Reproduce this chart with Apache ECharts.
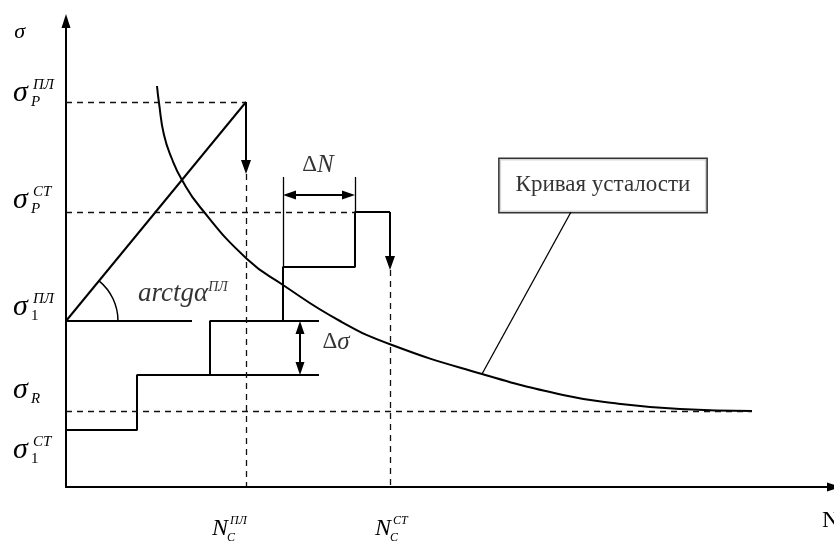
<!DOCTYPE html>
<html>
<head>
<meta charset="utf-8">
<script src="https://cdn.jsdelivr.net/npm/echarts@6/dist/echarts.min.js"></script>
<style>
html, body { margin: 0; padding: 0; background: #fff; }
#chart { width: 834px; height: 541px; }
</style>
</head>
<body>
<div id="chart"></div>
<script>
// уровни напряжений на оси σ (условные единицы)
var sigmaValues = [385, 275, 166, 76, 57];
var sigmaSub = ['P', 'P', '1', 'R', '1'];
var sigmaSup = ['ПЛ', 'СТ', 'ПЛ', '', 'СТ'];

// число циклов до разрушения на оси N
var nValues = [180, 324];
var nSub = ['C', 'C'];
var nSup = ['ПЛ', 'СТ'];

// кривая усталости
var curveN = [91, 93, 98, 106, 116, 134, 181, 217, 274, 326, 416, 497, 547, 614, 686];
var curveS = [401, 384, 352, 328, 307, 280, 228, 202, 166, 142, 113, 92, 84, 78, 76];

// ступенчатое нагружение
var step1N = [0, 71, 71, 253];
var step1S = [57, 57, 112, 112];
var step2N = [144, 144, 253];
var step2S = [112, 166, 166];
var step3N = [217, 217, 289, 289, 324];
var step3S = [166, 220, 220, 275, 275];

// плавное нагружение
var rampN = [0, 180];
var rampS = [166, 385];
var baseN = [0, 126];

// стрелки разрушения (до острия)
var dropN = [180, 324];
var dropFrom = [385, 275];
var dropTo = [313, 217];

var serif = '"Liberation Serif", "Times New Roman", serif';
var sigmaDy = [-9, -12, -14, -21, 20];
var nDx = [-34, -15];
var headH = 14;   // высота наконечника стрелки, px

function pairs(xs, ys) {
    return xs.map(function (x, i) { return [x, ys[i]]; });
}
function seg(a, b) {
    return [{coord: a}, {coord: b}];
}
function labelGroup(x, y, base, sub, sup, size, subDx, supDx) {
    var small = Math.round(size * 0.5);
    var kids = [{type: 'text', style: {x: x, y: y, text: base, font: 'italic ' + size + 'px ' + serif, fill: '#000', verticalAlign: 'middle'}}];
    if (sub) {
        kids.push({type: 'text', style: {x: x + subDx, y: y + 9, text: sub,
            font: (/\d/.test(sub) ? '' : 'italic ') + small + 'px ' + serif, fill: '#000', verticalAlign: 'middle'}});
    }
    if (sup) {
        kids.push({type: 'text', style: {x: x + supDx, y: y - 8, text: sup,
            font: 'italic ' + small + 'px ' + serif, fill: '#000', verticalAlign: 'middle'}});
    }
    return {type: 'group', children: kids};
}
function plain(data, width) {
    return {type: 'line', data: data, symbol: 'none', silent: true,
        lineStyle: {color: '#000', width: width || 2}};
}

var chart = echarts.init(document.getElementById('chart'));
var lastCurve = curveN.length - 1;
var half = headH / 2;

var option = {
    animation: false,
    backgroundColor: '#fff',
    grid: {left: 66, right: 0, top: 21, bottom: 54, outerBoundsMode: 'none', containLabel: false},
    xAxis: {
        type: 'value', min: 0, max: 768,
        name: 'N', nameLocation: 'end', nameGap: -12,
        nameTextStyle: {fontFamily: serif, fontSize: 24, color: '#000', align: 'left', verticalAlign: 'top', padding: [22, 0, 0, 0]},
        axisLine: {onZero: false, symbol: ['none', 'triangle'], symbolSize: [9, 14], lineStyle: {color: '#000', width: 2}},
        axisTick: {show: false}, axisLabel: {show: false}, splitLine: {show: false}
    },
    yAxis: {
        type: 'value', min: 0, max: 466,
        name: 'σ', nameLocation: 'end', nameGap: -11,
        nameTextStyle: {fontFamily: serif, fontStyle: 'italic', fontSize: 22, color: '#000', align: 'right', verticalAlign: 'middle', padding: [0, 41, 0, 0]},
        axisLine: {onZero: false, symbol: ['none', 'triangle'], symbolSize: [9, 14], lineStyle: {color: '#000', width: 2}},
        axisTick: {show: false}, axisLabel: {show: false}, splitLine: {show: false}
    },
    series: [
        Object.assign(plain(pairs(curveN, curveS)), {smooth: 0.5}),
        plain(pairs(step1N, step1S)),
        plain(pairs(step2N, step2S)),
        plain(pairs(step3N, step3S)),
        plain(pairs(rampN, rampS)),
        plain(pairs(baseN, [rampS[0], rampS[0]])),
        {
            // пунктирные уровни и проекции
            type: 'line', data: [], silent: true,
            markLine: {
                silent: true, symbol: ['none', 'none'], label: {show: false},
                lineStyle: {color: '#111', width: 1.3, type: [6, 5]},
                data: [
                    seg([0, sigmaValues[0]], [dropN[0], sigmaValues[0]]),
                    seg([dropN[0], dropTo[0]], [dropN[0], 0]),
                    seg([0, sigmaValues[1]], [step3N[2], sigmaValues[1]]),
                    seg([dropN[1], dropTo[1]], [dropN[1], 0]),
                    seg([0, sigmaValues[3]], [curveN[lastCurve], sigmaValues[3]])
                ]
            }
        },
        {
            // тонкие линии: выноски и ограничители ΔN
            type: 'line', data: [], silent: true,
            markLine: {
                silent: true, symbol: ['none', 'none'], label: {show: false},
                lineStyle: {color: '#000', width: 1.3, type: 'solid'},
                data: [
                    seg([step3N[0], step3S[1]], [step3N[0], 310]),
                    seg([step3N[2], step3S[3]], [step3N[2], 310]),
                    seg([416, 113], [505, 275])
                ]
            }
        },
        {
            // стрелки разрушения (символ центрирован на конце — сдвигаем на полвысоты)
            type: 'line', data: [], silent: true,
            markLine: {
                silent: true, symbol: ['none', 'triangle'], symbolSize: [10, headH], label: {show: false},
                lineStyle: {color: '#000', width: 2, type: 'solid'},
                data: [
                    seg([dropN[0], dropFrom[0]], [dropN[0], dropTo[0] + half]),
                    seg([dropN[1], dropFrom[1]], [dropN[1], dropTo[1] + half])
                ]
            }
        },
        {
            // двусторонние стрелки ΔN и Δσ
            type: 'line', data: [], silent: true,
            markLine: {
                silent: true, symbol: ['triangle', 'triangle'], symbolSize: [9, 13], label: {show: false},
                lineStyle: {color: '#000', width: 2, type: 'solid'},
                data: [
                    seg([step3N[0] + 6.5, 292], [step3N[2] - 6.5, 292]),
                    seg([234, step1S[2] + 6.5], [234, step2S[1] - 6.5])
                ]
            }
        },
        {
            // дуга угла наклона
            type: 'custom', silent: true, clip: false,
            data: [[rampN[0], rampS[0]]],
            renderItem: function (params, api) {
                var c = api.coord([rampN[0], rampS[0]]);
                var e = api.coord([rampN[1], rampS[1]]);
                var ang = Math.atan2(e[1] - c[1], e[0] - c[0]);
                return {type: 'arc', shape: {cx: c[0], cy: c[1], r: 52, startAngle: ang, endAngle: 0, clockwise: true},
                    style: {stroke: '#000', fill: 'none', lineWidth: 1.5}};
            }
        },
        {
            // подписи уровней σ
            type: 'custom', silent: true, clip: false,
            data: sigmaValues.map(function (v) { return [0, v]; }),
            renderItem: function (params, api) {
                var i = params.dataIndex;
                var p = api.coord([0, sigmaValues[i]]);
                return labelGroup(p[0] - 53, p[1] + sigmaDy[i], 'σ', sigmaSub[i], sigmaSup[i], 30, 18, 20);
            }
        },
        {
            // подписи на оси N
            type: 'custom', silent: true, clip: false,
            data: nValues.map(function (v) { return [v, 0]; }),
            renderItem: function (params, api) {
                var i = params.dataIndex;
                var p = api.coord([nValues[i], 0]);
                return labelGroup(p[0] + nDx[i], p[1] + 42, 'N', nSub[i], nSup[i], 24, 15, 18);
            }
        },
        {
            // надписи ΔN, Δσ, arctgα
            type: 'scatter', silent: true, symbolSize: 0,
            label: {
                show: true, position: 'inside', color: '#000', fontFamily: serif,
                rich: {
                    u: {fontFamily: serif, fontSize: 23, color: '#000'},
                    i: {fontFamily: serif, fontSize: 25, fontStyle: 'italic', color: '#000'},
                    a: {fontFamily: serif, fontSize: 27, fontStyle: 'italic', color: '#000'},
                    sup: {fontFamily: serif, fontSize: 14, fontStyle: 'italic', color: '#000', verticalAlign: 'top'}
                }
            },
            data: [
                {value: [252, 322], label: {formatter: '{u|Δ}{i|N}'}},
                {value: [270, 145], label: {formatter: '{u|Δ}{i|σ}'}},
                {value: [72, 193], label: {formatter: '{a|arctgα}{sup|ПЛ}', align: 'left'}}
            ]
        },
        {
            // рамка «Кривая усталости»
            type: 'scatter', silent: true, symbolSize: 0,
            data: [[505, 275]],
            label: {
                show: true, position: 'top', distance: 0, offset: [32, 0],
                formatter: 'Кривая усталости',
                fontFamily: serif, fontSize: 23, lineHeight: 27, color: '#000',
                backgroundColor: '#fff', borderColor: '#000', borderWidth: 1.5,
                padding: [12, 16, 14, 16]
            }
        }
    ]
};
chart.setOption(option);
</script>
</body>
</html>
